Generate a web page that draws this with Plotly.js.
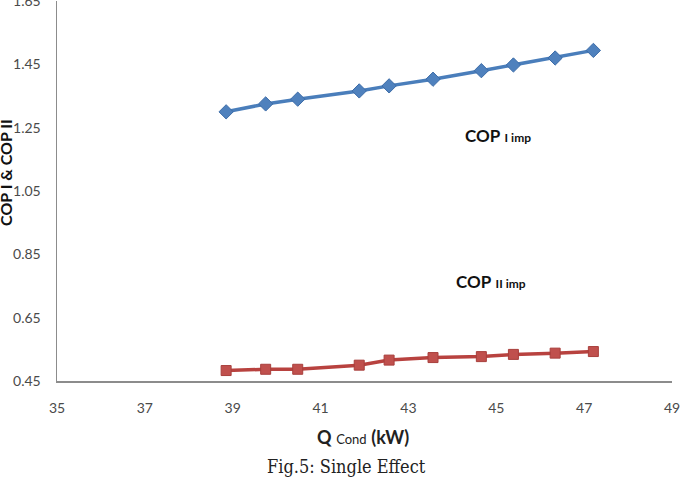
<!DOCTYPE html>
<html>
<head>
<meta charset="utf-8">
<script src="https://cdn.plot.ly/plotly-3.0.1.min.js"></script>
<style>html,body{margin:0;padding:0;background:#fff;}#chart{width:682px;height:490px;}</style>
</head>
<body>
<div id="chart"></div>
<script>
// Data
var qCond = [38.85, 39.75, 40.48, 41.88, 42.56, 43.56, 44.66, 45.39, 46.34, 47.21];
var copI  = [1.300, 1.325, 1.340, 1.366, 1.382, 1.403, 1.430, 1.448, 1.470, 1.494];
var copII = [0.483, 0.487, 0.487, 0.500, 0.516, 0.524, 0.527, 0.534, 0.538, 0.543];
var xTicks = [35, 37, 39, 41, 43, 45, 47, 49];
var yTicks = [0.45, 0.65, 0.85, 1.05, 1.25, 1.45, 1.65];
var yTickText = ["0.45", "0.65", "0.85", "1.05", "1.25", "1.45", "1.65"];

var traces = [
  {x: qCond, y: copI, mode: 'lines+markers', name: 'COP I imp',
   line: {color: '#4A7EBB', width: 3.5},
   marker: {symbol: 'diamond', size: 11, color: '#4F81BD', line: {color: '#3C6CA8', width: 1}}},
  {x: qCond, y: copII, mode: 'lines+markers', name: 'COP II imp',
   line: {color: '#B8423F', width: 3.5},
   marker: {symbol: 'square', size: 10, color: '#C0504D', line: {color: '#A83F3C', width: 1}}}
];

var axisFont = {family: 'Lato, "Open Sans", sans-serif', size: 14, color: '#4A4A4A'};
var layout = {
  width: 682, height: 490,
  margin: {l: 57, r: 10, t: 1, b: 109},
  paper_bgcolor: '#ffffff', plot_bgcolor: '#ffffff',
  showlegend: false,
  xaxis: {range: [35, 49], tickvals: xTicks, ticktext: xTicks.map(String),
          showgrid: false, zeroline: false, showline: true, linecolor: '#8C8C8C', linewidth: 1.5,
          ticks: '', ticklabelstandoff: 14, tickfont: axisFont, ticklabeloverflow: 'allow'},
  yaxis: {range: [0.45, 1.65], tickvals: yTicks, ticktext: yTickText,
          showgrid: false, zeroline: false, showline: true, linecolor: '#8C8C8C', linewidth: 1.5,
          ticks: '', ticklabelstandoff: 12, tickfont: axisFont, ticklabeloverflow: 'allow'},
  annotations: [
    {xref: 'x', yref: 'y', x: 45.04, y: 1.224, showarrow: false,
     text: '<b>COP</b> <b><span style="font-size:12px">I imp</span></b>',
     font: {family: 'Lato, "Open Sans", sans-serif', size: 17, color: '#111111'}},
    {xref: 'x', yref: 'y', x: 44.88, y: 0.763, showarrow: false,
     text: '<b>COP</b> <b><span style="font-size:12px">II imp</span></b>',
     font: {family: 'Lato, "Open Sans", sans-serif', size: 17, color: '#111111'}},
    {xref: 'paper', yref: 'paper', x: -0.083, y: 0.55, xanchor: 'center', yanchor: 'middle',
     showarrow: false, textangle: -90,
     text: '<b>COP I &amp; COP II</b>',
     font: {family: 'Lato, "Open Sans", sans-serif', size: 16, color: '#111111'}},
    {xref: 'paper', yref: 'paper', x: 0.4976, y: -0.147, xanchor: 'center', yanchor: 'middle',
     showarrow: false,
     text: '<b>Q</b> <span style="font-size:13px">Cond</span> <b>(kW)</b>',
     font: {family: 'Lato, "Open Sans", sans-serif', size: 18, color: '#222222'}},
    {xref: 'paper', yref: 'paper', x: 0.47, y: -0.226, xanchor: 'center', yanchor: 'middle',
     showarrow: false,
     text: 'Fig.5: Single Effect',
     font: {family: '"DejaVu Serif Condensed", "DejaVu Serif", serif', size: 18, color: '#222222'}}
  ]
};

Plotly.newPlot('chart', traces, layout, {staticPlot: true, displayModeBar: false});
</script>
</body>
</html>
